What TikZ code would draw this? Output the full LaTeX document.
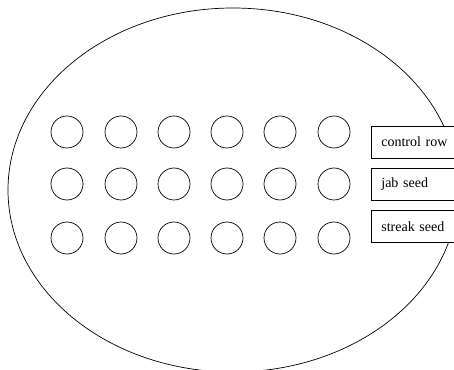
\documentclass[tikz,border=0pt]{standalone}
\usepackage{fontspec}
\setmainfont{Liberation Serif}
\begin{document}
\begin{tikzpicture}[x=1pt,y=1pt,
  hole/.style={circle,draw,line width=0.7pt,minimum size=32pt,inner sep=0pt},
  tag/.style={rectangle,draw,fill=white,line width=0.7pt,anchor=west,minimum width=110pt,minimum height=32pt,text width=90pt,align=left,inner xsep=10pt,font=\fontsize{14}{16}\selectfont}]
\clip (0,0) rectangle (454,369);
\draw[line width=0.7pt] (233,179) ellipse [x radius=225, y radius=182];
\foreach \r/\y in {1/237,2/185,3/131}{
  \foreach \c/\x in {1/67,2/121,3/174,4/227,5/280,6/334}{
    \node[hole] (h\r\c) at (\x,\y) {};
  }
}
\node[tag] (b1) at (371,227) {control row};
\node[tag] (b2) at (371,184.5) {jab seed};
\node[tag] (b3) at (371,142.5) {streak seed};
\end{tikzpicture}
\end{document}
